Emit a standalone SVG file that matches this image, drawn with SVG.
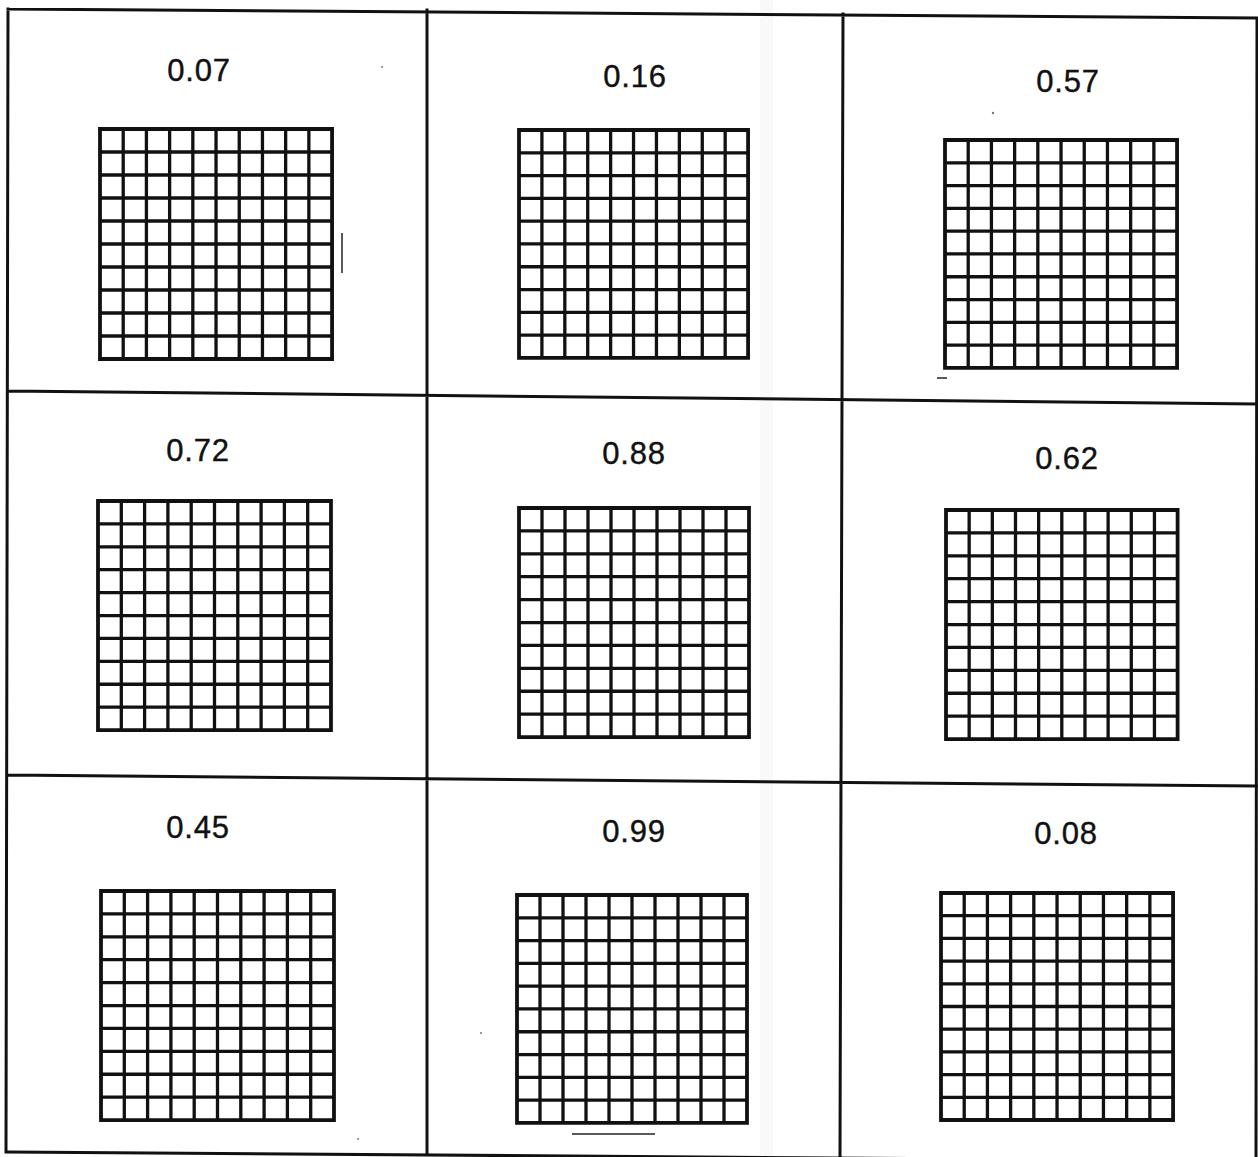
<svg xmlns="http://www.w3.org/2000/svg" xmlns:xlink="http://www.w3.org/1999/xlink" width="1258" height="1157" viewBox="0 0 1258 1157">
<style>
.frame{stroke:#111;stroke-width:3;fill:none;stroke-linecap:square}
.lbl{font-family:"Liberation Sans",Arial,sans-serif;font-size:31px;fill:#111;stroke:#111;stroke-width:0.4;text-anchor:middle;letter-spacing:0.8px}
.mark{stroke:#222;stroke-width:1.5;fill:none}
.dot{fill:#777}
</style>
<defs>
<g id="grid">
<path d="M23 0V230M46 0V230M69 0V230M92 0V230M115 0V230M138 0V230M161 0V230M184 0V230M207 0V230M0 23H230M0 46H230M0 69H230M0 92H230M0 115H230M0 138H230M0 161H230M0 184H230M0 207H230" stroke="#111" stroke-width="3.3" fill="none" vector-effect="non-scaling-stroke"/>
<rect x="0" y="0" width="230" height="230" stroke="#111" stroke-width="3.8" fill="none" vector-effect="non-scaling-stroke"/>
</g>
</defs>
<rect width="1258" height="1157" fill="#fff"/>
<rect x="760" y="0" width="13" height="1157" fill="#f9f9f9"/>
<g id="connectors">
<path class="frame" d="M8 9L1257 18M8 391L1257 404M8 775L1257 786M8 1152L1257 1161M8 9L6 1152M427 10L427 1155M843 14L840 1158M1257 18L1256 1160"/>
</g>
<g id="cell-0-0">
<text class="lbl" x="199" y="81">0.07</text>
<use xlink:href="#grid" transform="translate(100,129) scale(1.009,1)"/>
</g>
<g id="cell-0-1">
<text class="lbl" x="635" y="87">0.16</text>
<use xlink:href="#grid" transform="translate(519,130) scale(0.996,0.991)"/>
</g>
<g id="cell-0-2">
<text class="lbl" x="1068" y="92">0.57</text>
<use xlink:href="#grid" transform="translate(945,140) scale(1.009,0.991)"/>
</g>
<g id="cell-1-0">
<text class="lbl" x="198" y="461">0.72</text>
<use xlink:href="#grid" transform="translate(98,501) scale(1.013,0.996)"/>
</g>
<g id="cell-1-1">
<text class="lbl" x="634" y="464">0.88</text>
<use xlink:href="#grid" transform="translate(519,508) scale(1,0.996)"/>
</g>
<g id="cell-1-2">
<text class="lbl" x="1067" y="469">0.62</text>
<use xlink:href="#grid" transform="translate(946,510) scale(1.007,0.996)"/>
</g>
<g id="cell-2-0">
<text class="lbl" x="198" y="838">0.45</text>
<use xlink:href="#grid" transform="translate(101,891) scale(1.013,0.996)"/>
</g>
<g id="cell-2-1">
<text class="lbl" x="634" y="842">0.99</text>
<use xlink:href="#grid" transform="translate(517,895) scale(1,0.991)"/>
</g>
<g id="cell-2-2">
<text class="lbl" x="1066" y="844">0.08</text>
<use xlink:href="#grid" transform="translate(941,893) scale(1.009,0.987)"/>
</g>
<g id="marks">
<path class="mark" d="M342 233V273"/>
<path class="mark" d="M937 378H947" stroke-width="2"/>
<path class="mark" d="M572 1134H655" stroke-width="1.5"/>
<circle class="dot" cx="382" cy="67" r="1"/>
<circle class="dot" cx="993" cy="113" r="1.2"/>
<circle class="dot" cx="358" cy="1139" r="1"/>
<circle class="dot" cx="481" cy="1033" r="1"/>
</g>
</svg>
